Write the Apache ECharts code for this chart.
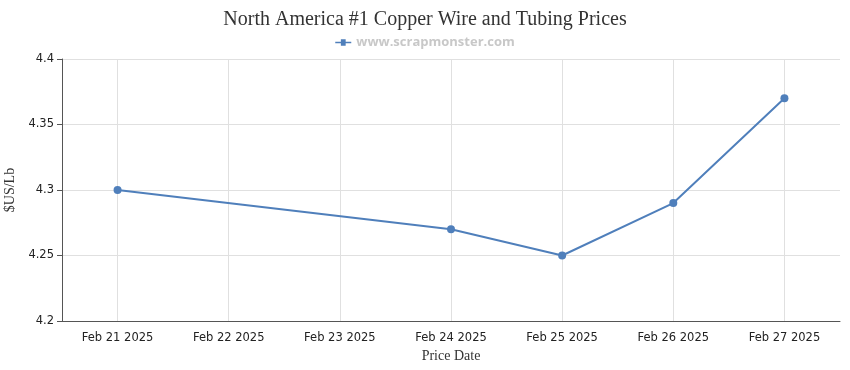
<!DOCTYPE html>
<html>
<head>
<meta charset="utf-8">
<script src="https://cdn.jsdelivr.net/npm/echarts@6/dist/echarts.min.js"></script>
<style>html,body{margin:0;padding:0;background:#fff}#c{width:850px;height:370px}</style>
</head>
<body>
<div id="c"></div>
<script>
const titleText = "North America #1 Copper Wire and Tubing Prices";
const legendName = "www.scrapmonster.com";
const categories = ["Feb 21 2025","Feb 22 2025","Feb 23 2025","Feb 24 2025","Feb 25 2025","Feb 26 2025","Feb 27 2025"];
const prices = [4.30, null, null, 4.27, 4.25, 4.29, 4.37];
const yMin = 4.2, yMax = 4.4, yInterval = 0.05;

const chart = echarts.init(document.getElementById('c'), null, {renderer: 'canvas'});
chart.setOption({
  animation: false,
  backgroundColor: '#fff',
  title: {
    text: titleText, left: 'center', top: 5,
    textStyle: {fontFamily: 'Liberation Serif', fontSize: 20, fontWeight: 'normal', color: '#333'}
  },
  legend: {
    data: [{name: legendName, icon: 'path://M0,6h7v-3h6v3h7v2h-7v3h-6v-3h-7z'}],
    top: 31, left: 'center', itemWidth: 16, itemHeight: 9, itemGap: 5,
    textStyle: {fontFamily: 'Open Sans', fontWeight: 'bold', fontSize: 13, color: '#c8c8c8'}
  },
  grid: {left: 62, right: 10, top: 59, bottom: 49, containLabel: false, outerBoundsMode: 'none'},
  xAxis: {
    type: 'category', data: categories, boundaryGap: true,
    name: 'Price Date', nameLocation: 'middle', nameGap: 26,
    nameTextStyle: {fontFamily: 'Liberation Serif', fontSize: 14, color: '#333'},
    axisLine: {lineStyle: {color: '#555'}},
    axisTick: {show: false},
    axisLabel: {fontFamily: 'DejaVu Sans', fontSize: 11.5, color: '#222', margin: 11},
    splitLine: {show: false}
  },
  yAxis: {
    type: 'value', min: yMin, max: yMax, interval: yInterval,
    name: '$US/Lb', nameLocation: 'middle', nameGap: 40,
    nameTextStyle: {fontFamily: 'Liberation Serif', fontSize: 14, color: '#333'},
    axisLine: {show: true, lineStyle: {color: '#555'}},
    axisTick: {show: true, length: 5, lineStyle: {color: '#555'}},
    axisLabel: {fontFamily: 'DejaVu Sans', fontSize: 11.5, color: '#222', margin: 8},
    splitLine: {lineStyle: {color: '#e0e0e0'}}
  },
  series: [
    {
      name: 'grid-v', type: 'line', data: [], z: 0, silent: true,
      markLine: {
        silent: true, symbol: 'none', label: {show: false},
        lineStyle: {color: '#e0e0e0', type: 'solid', width: 1},
        data: categories.map(c => ({xAxis: c}))
      }
    },
    {
      name: legendName, type: 'line', data: prices, connectNulls: true, z: 10, zlevel: 1,
      symbol: 'circle', symbolSize: 8,
      itemStyle: {color: '#4f7fbb', borderWidth: 0},
      lineStyle: {color: '#4f7fbb', width: 2}
    }
  ]
});
</script>
</body>
</html>
